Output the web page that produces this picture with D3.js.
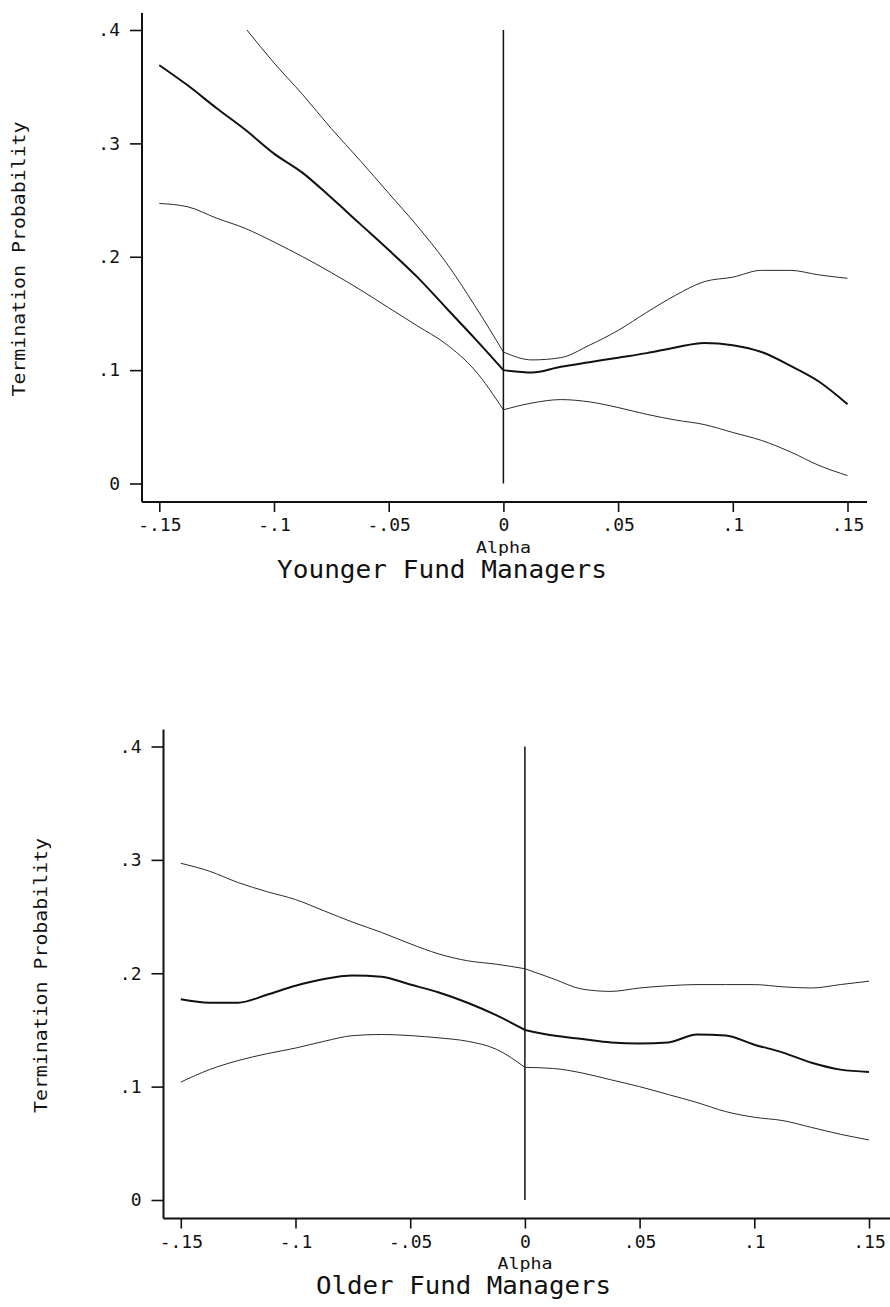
<!DOCTYPE html>
<html><head><meta charset="utf-8">
<script src="https://cdn.jsdelivr.net/npm/d3@7"></script>
<style>
html,body{margin:0;padding:0;background:#fff;}
text{font-family:"DejaVu Sans Mono",monospace;fill:#111;}
</style></head>
<body>
<svg id="c" width="890" height="1307"></svg>
<script>
// ---- data ----
const alpha = [-0.15,-0.1375,-0.125,-0.1125,-0.1,-0.0875,-0.075,-0.0625,-0.05,-0.0375,-0.025,-0.0125,0,
  0.0125,0.025,0.0375,0.05,0.0625,0.075,0.0875,0.1,0.1125,0.125,0.1375,0.15];
const youngEst = [0.369,0.351,0.331,0.312,0.291,0.274,0.252,0.229,0.206,0.182,0.155,0.128,0.100,
  0.098,0.103,0.107,0.111,0.115,0.120,0.124,0.122,0.116,0.104,0.090,0.070];
const youngLower = [0.247,0.244,0.234,0.225,0.213,0.200,0.186,0.171,0.155,0.139,0.123,0.100,0.065,
  0.071,0.074,0.072,0.067,0.061,0.056,0.052,0.045,0.038,0.028,0.016,0.007];
const youngUpperAlpha = [-0.1118,-0.1,-0.0875,-0.075,-0.0625,-0.05,-0.0375,-0.025,-0.0125,0,
  0.0125,0.025,0.0375,0.05,0.0625,0.075,0.0875,0.1,0.1125,0.125,0.1375,0.15];
const youngUpper = [0.400,0.371,0.343,0.313,0.285,0.256,0.227,0.195,0.157,0.116,
  0.109,0.111,0.122,0.135,0.151,0.166,0.178,0.182,0.188,0.188,0.184,0.181];
const oldEst = [0.177,0.174,0.174,0.181,0.189,0.195,0.198,0.197,0.190,0.183,0.174,0.163,0.150,
  0.145,0.142,0.139,0.138,0.139,0.146,0.145,0.137,0.130,0.121,0.115,0.113];
const oldUpper = [0.297,0.290,0.280,0.272,0.265,0.255,0.245,0.236,0.226,0.217,0.211,0.208,0.204,
  0.195,0.186,0.184,0.187,0.189,0.190,0.190,0.190,0.188,0.187,0.190,0.193];
const oldLower = [0.104,0.115,0.123,0.129,0.134,0.140,0.145,0.146,0.145,0.143,0.140,0.133,0.117,
  0.116,0.112,0.106,0.100,0.093,0.086,0.078,0.073,0.070,0.064,0.058,0.053];

const xTicks = [-0.15,-0.1,-0.05,0,0.05,0.1,0.15];
const xTickLabels = ["-.15","-.1","-.05","0",".05",".1",".15"];
const yTicks = [0,0.1,0.2,0.3,0.4];
const yTickLabels = ["0",".1",".2",".3",".4"];
const yTitle = "Termination Probability";
const xTitle = "Alpha";
const panelTitles = ["Younger Fund Managers","Older Fund Managers"];

// ---- layout ----
const svg = d3.select("#c");
const panels = [
  {ox:0, oy:0, title:panelTitles[0],
   series:[{a:alpha,v:youngEst,w:2},{a:alpha,v:youngLower,w:1},{a:youngUpperAlpha,v:youngUpper,w:1}],
   axisRight:867, titleW:330},
  {ox:21.5, oy:716.5, title:panelTitles[1],
   series:[{a:alpha,v:oldEst,w:2},{a:alpha,v:oldUpper,w:1},{a:alpha,v:oldLower,w:1}],
   axisRight:890-21.5, titleW:295}
];

panels.forEach(p=>{
  const g = svg.append("g").attr("transform",`translate(${p.ox},${p.oy})`);
  const x = d3.scaleLinear().domain([-0.15,0.15]).range([159.3,847.5]);
  const y = d3.scaleLinear().domain([0,0.4]).range([483.5,30]);
  const axX = 142, axY = 502, axTop = 13;

  // y axis
  const ya = g.append("g").attr("transform",`translate(${axX},0)`)
    .call(d3.axisLeft(y).tickValues(yTicks).tickFormat((d,i)=>yTickLabels[i]).tickSize(12).tickPadding(10));
  ya.select(".domain").remove();
  ya.selectAll("line").attr("stroke","#111").attr("stroke-width",1.6);
  ya.selectAll("text").attr("font-size",18).attr("fill","#111").attr("font-family","DejaVu Sans Mono");

  // x axis
  const xa = g.append("g").attr("transform",`translate(0,${axY})`)
    .call(d3.axisBottom(x).tickValues(xTicks).tickFormat((d,i)=>xTickLabels[i]).tickSize(10).tickPadding(6));
  xa.select(".domain").remove();
  xa.selectAll("line").attr("stroke","#111").attr("stroke-width",1.6);
  xa.selectAll("text").attr("font-size",18).attr("fill","#111").attr("font-family","DejaVu Sans Mono")
    .attr("y",23).attr("dy","0.35em");

  // axis lines
  g.append("line").attr("x1",axX).attr("x2",axX).attr("y1",axTop).attr("y2",axY)
    .attr("stroke","#111").attr("stroke-width",2);
  g.append("line").attr("x1",axX).attr("x2",p.axisRight).attr("y1",axY).attr("y2",axY)
    .attr("stroke","#111").attr("stroke-width",2);

  // vertical reference line at alpha = 0
  g.append("line").attr("x1",x(0)).attr("x2",x(0)).attr("y1",y(0)).attr("y2",y(0.4))
    .attr("stroke","#111").attr("stroke-width",1.5);

  // series: smooth on each side of the break at alpha = 0
  const lineGen = d3.line().x(d=>x(d[0])).y(d=>y(d[1])).curve(d3.curveMonotoneX);
  p.series.forEach(s=>{
    const pts = s.a.map((a,i)=>[a,s.v[i]]);
    const parts = [pts.filter(d=>d[0]<=0), pts.filter(d=>d[0]>=0)];
    parts.forEach(part=>{
      g.append("path").datum(part)
        .attr("d",lineGen)
        .attr("fill","none").attr("stroke",s.w>1?"#111":"#2a2a2a")
        .attr("stroke-width",s.w).attr("stroke-linejoin","round");
    });
  });

  // texts
  g.append("text").attr("transform",`translate(19,259) rotate(-90)`)
    .attr("text-anchor","middle").attr("dominant-baseline","central")
    .attr("font-size",17).attr("textLength",275).attr("lengthAdjust","spacingAndGlyphs").text(yTitle);
  g.append("text").attr("x",x(0)).attr("y",547).attr("text-anchor","middle").attr("dominant-baseline","central")
    .attr("font-size",16).attr("textLength",55).attr("lengthAdjust","spacingAndGlyphs").text(xTitle);
  g.append("text").attr("x",442).attr("y",569).attr("text-anchor","middle").attr("dominant-baseline","central")
    .attr("font-size",25).attr("textLength",p.titleW).attr("lengthAdjust","spacingAndGlyphs").text(p.title);
});
</script>
</body></html>
